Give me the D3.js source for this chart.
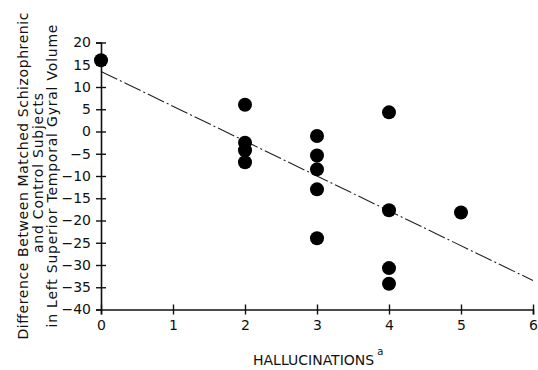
<!DOCTYPE html>
<html>
<head>
<meta charset="utf-8">
<script src="https://cdn.jsdelivr.net/npm/d3@7"></script>
<style>
  body { margin: 0; background: #fff; }
  text { font-family: "DejaVu Sans", "Liberation Sans", sans-serif; fill: #111; }
</style>
</head>
<body>
<div id="wrapper"></div>
<script>
// data
const hallucinations = [0, 2, 2, 2, 2, 3, 3, 3, 3, 3, 4, 4, 4, 4, 5];
const volumeDiff = [16, 6, -2.5, -4.2, -6.9, -1, -5.4, -8.5, -13, -24, 4.3, -17.7, -30.7, -34.2, -18.2];
const fitLineX = [0, 6];
const fitLineY = [13.5, -33.5];
const xTicks = [0, 1, 2, 3, 4, 5, 6];
const yTicks = [20, 15, 10, 5, 0, -5, -10, -15, -20, -25, -30, -35, -40];
const yTitleLines = [
  "Difference Between Matched Schizophrenic",
  "and Control Subjects",
  "in Left Superior Temporal Gyral Volume",
];
const yTitleLengths = [327, 160, 303];

function drawChart() {
  const dataset = hallucinations.map((h, i) => ({ x: h, y: volumeDiff[i] }));
  const fitLine = fitLineX.map((x, i) => ({ x: x, y: fitLineY[i] }));

  const xAccessor = (d) => d.x;
  const yAccessor = (d) => d.y;

  let dimensions = {
    width: 538,
    height: 370,
    margin: { top: 42.5, right: 5, bottom: 60, left: 101 },
  };
  dimensions.boundedWidth = 432;
  dimensions.boundedHeight = 267;

  const wrapper = d3
    .select("#wrapper")
    .append("svg")
    .attr("width", dimensions.width)
    .attr("height", dimensions.height);

  const bounds = wrapper
    .append("g")
    .attr("transform", `translate(${dimensions.margin.left},${dimensions.margin.top})`);

  const xScale = d3.scaleLinear().domain([0, 6]).range([0, dimensions.boundedWidth]);
  const yScale = d3.scaleLinear().domain([-40, 20]).range([dimensions.boundedHeight, 0]);

  // fitted regression line (dash-dot)
  const lineGenerator = d3
    .line()
    .x((d) => xScale(xAccessor(d)))
    .y((d) => yScale(yAccessor(d)));

  bounds
    .append("path")
    .attr("d", lineGenerator(fitLine))
    .attr("fill", "none")
    .attr("stroke", "#222")
    .attr("stroke-width", 1.1)
    .attr("stroke-dasharray", "18,3,2,3");

  // y axis, ticks cross the line
  const yAxisGenerator = d3
    .axisLeft(yScale)
    .tickValues(yTicks)
    .tickFormat(d3.format("d"))
    .tickSizeOuter(0)
    .tickSize(5)
    .tickPadding(5);
  const yAxis = bounds.append("g").call(yAxisGenerator);
  yAxis.select(".domain").attr("stroke", "#111").attr("stroke-width", 1.6);
  yAxis
    .selectAll(".tick line")
    .attr("x1", (d) => (d === -40 ? 0 : 5))
    .attr("stroke", "#111")
    .attr("stroke-width", 1.4);
  yAxis
    .selectAll(".tick text")
    .style("font-size", "14px")
    .style("font-family", "DejaVu Sans")
    .attr("fill", "#111");

  // x axis
  const xAxisGenerator = d3
    .axisBottom(xScale)
    .tickValues(xTicks)
    .tickFormat(d3.format("d"))
    .tickSizeOuter(0)
    .tickSize(5)
    .tickPadding(6);
  const xAxis = bounds
    .append("g")
    .attr("transform", `translate(0,${dimensions.boundedHeight})`)
    .call(xAxisGenerator);
  xAxis.select(".domain").attr("stroke", "#111").attr("stroke-width", 1.6);
  xAxis
    .selectAll(".tick line")
    .attr("y1", -5)
    .attr("stroke", "#111")
    .attr("stroke-width", 1.4);
  xAxis
    .selectAll(".tick text")
    .style("font-size", "14px")
    .style("font-family", "DejaVu Sans")
    .attr("fill", "#111");

  // points
  bounds
    .selectAll("circle")
    .data(dataset)
    .join("circle")
    .attr("cx", (d) => xScale(xAccessor(d)))
    .attr("cy", (d) => yScale(yAccessor(d)))
    .attr("r", 7)
    .attr("fill", "#000");

  // y axis title, three rotated lines
  yTitleLines.forEach((t, i) => {
    wrapper
      .append("text")
      .attr("transform", `translate(${28 + i * 14.5},${i === 1 ? 173 : 176}) rotate(-90)`)
      .attr("text-anchor", "middle")
      .attr("textLength", yTitleLengths[i])
      .attr("lengthAdjust", "spacing")
      .style("font-size", "14px")
      .text(t);
  });

  // x axis title with superscript
  const xTitle = wrapper
    .append("text")
    .attr("x", 253)
    .attr("y", 365)
    .style("font-size", "14px");
  xTitle.append("tspan").text("HALLUCINATIONS");
  xTitle
    .append("tspan")
    .attr("dx", 3)
    .attr("dy", -10)
    .style("font-size", "10px")
    .text("a");
}

drawChart();
</script>
</body>
</html>
